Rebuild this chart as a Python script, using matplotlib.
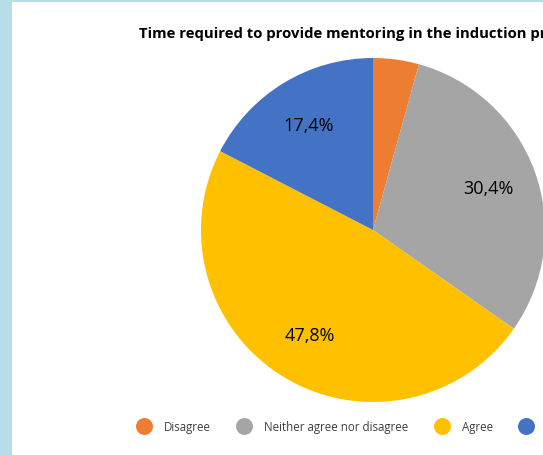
import matplotlib
matplotlib.use("Agg")
import matplotlib.pyplot as plt
from matplotlib.lines import Line2D
from matplotlib.patches import Rectangle
import numpy as np

categories = ["Disagree", "Neither agree nor disagree", "Agree", "Strongly agree"]
values = [4.3, 30.4, 47.8, 17.4]
labels_shown = ["", "30,4%", "47,8%", "17,4%"]
colors = ["#ED7D31", "#A5A5A5", "#FFC000", "#4472C4"]
title = "Time required to provide mentoring in the induction process"

W, H = 543, 456
fig = plt.figure(figsize=(W / 100, H / 100), dpi=100)
fig.patch.set_facecolor("#B7DDE8")
ax = fig.add_axes([0, 0, 1, 1])
ax.add_patch(Rectangle((12, 0), W, H - 3, facecolor="white", edgecolor="none", zorder=0))

font = "Open Sans"
cx, cy, R = 373, H - 231, 172
wedges, texts = ax.pie(values, colors=colors, startangle=90, counterclock=False,
                       center=(cx, cy), radius=R,
                       wedgeprops=dict(linewidth=0), frame=True)
ax.set_xlim(0, W)
ax.set_ylim(0, H)
ax.set_aspect("equal")
ax.axis("off")

cum = np.cumsum([0] + values)
for i, lab in enumerate(labels_shown):
    if not lab:
        continue
    mid = 90 - (cum[i] + values[i] / 2) / 100 * 360
    r = R * 0.715
    x = cx + r * np.cos(np.radians(mid))
    y = cy + r * np.sin(np.radians(mid))
    ax.text(x, y, lab, ha="center", va="center", fontsize=13, family=font, color="black")

ax.text(139, H - 34, title, ha="left", va="center", fontsize=10.7, fontweight="bold",
        family=font, color="black")

fs = 8.3
handles = [Line2D([], [], marker="o", linestyle="none", markersize=12.2,
                  markerfacecolor=c, markeredgecolor="none") for c in colors]
leg = ax.legend(handles, categories, loc="center left", bbox_to_anchor=(136 / W, 1 - 427.5 / H),
                bbox_transform=fig.transFigure, ncol=4, frameon=False,
                prop=dict(family=font, size=fs), handletextpad=1.04, columnspacing=2.17,
                handlelength=1.4, borderaxespad=0, borderpad=0)
for t in leg.get_texts():
    t.set_color("#404040")

fig.savefig("out.png", dpi=100)
